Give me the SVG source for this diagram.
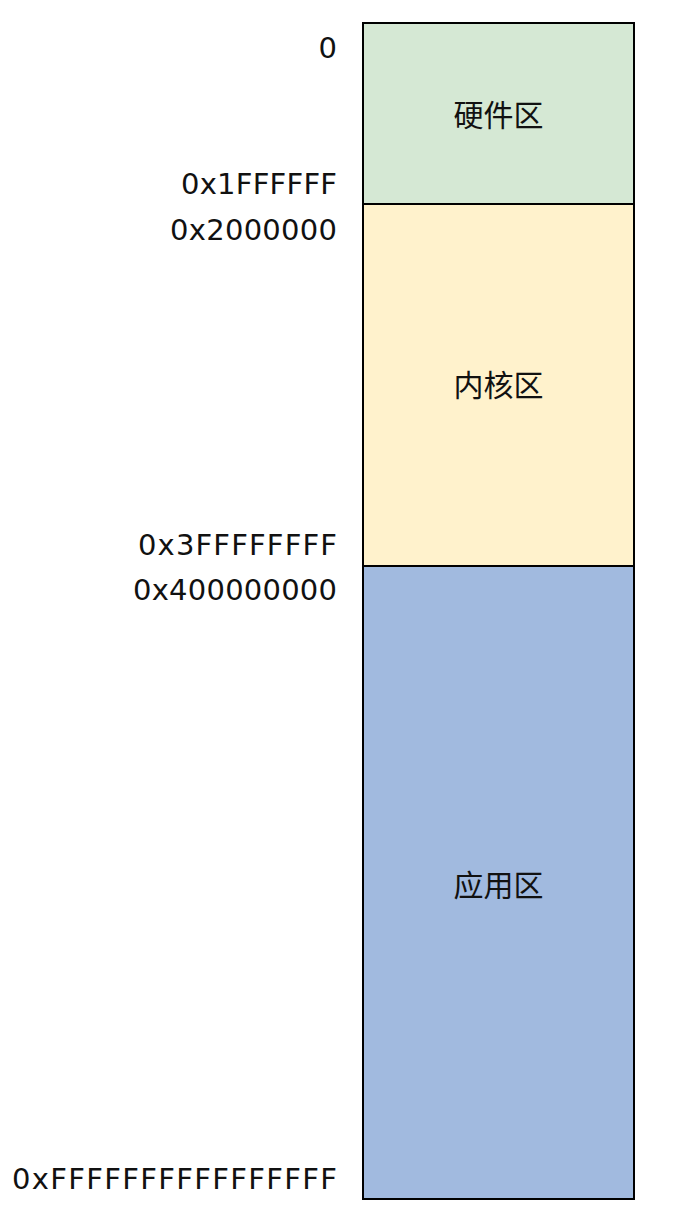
<svg xmlns="http://www.w3.org/2000/svg" width="682" height="1225" viewBox="0 0 682 1225">
<style>
.seg{stroke:#000;stroke-width:2}
.addr{font-family:"DejaVu Sans","Liberation Sans",sans-serif;font-size:29px;fill:#111;text-anchor:end}
.lbl{font-family:"Noto Sans CJK SC","Noto Sans",sans-serif;font-size:30px;fill:#111;text-anchor:middle}
</style>
<rect width="682" height="1225" fill="#fff"/>
<g id="hardware">
<rect class="seg" x="363" y="23" width="271" height="181" fill="#d5e8d4"/>
<text class="lbl" x="498.5" y="126">硬件区</text>
</g>
<g id="kernel">
<rect class="seg" x="363" y="204" width="271" height="362" fill="#fff2cc"/>
<text class="lbl" x="498.5" y="396">内核区</text>
</g>
<g id="app">
<rect class="seg" x="363" y="566" width="271" height="633" fill="#a1badf"/>
<text class="lbl" x="498.5" y="896">应用区</text>
</g>
<g id="addresses">
<text class="addr" x="337" y="58">0</text>
<text class="addr" x="337" y="194" textLength="156">0x1FFFFFF</text>
<text class="addr" x="337" y="240" textLength="167">0x2000000</text>
<text class="addr" x="337" y="555" textLength="199">0x3FFFFFFFF</text>
<text class="addr" x="337" y="600" textLength="204">0x400000000</text>
<text class="addr" x="337" y="1189" textLength="325">0xFFFFFFFFFFFFFFFF</text>
</g>
<g id="connectors"/>
</svg>
